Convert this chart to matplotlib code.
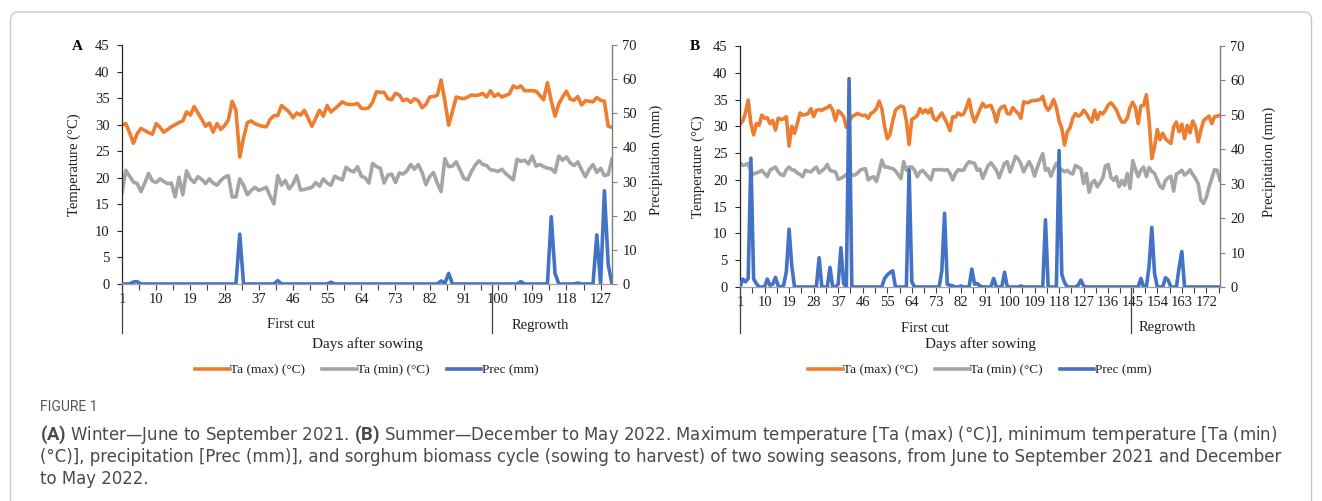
import numpy as np
import matplotlib.pyplot as plt
from matplotlib import font_manager
from matplotlib.lines import Line2D
from matplotlib.patches import FancyBboxPatch
from matplotlib.transforms import IdentityTransform, blended_transform_factory

plt.rcParams['font.family'] = ['Liberation Serif', 'DejaVu Serif']
plt.rcParams['mathtext.fontset'] = 'custom'
plt.rcParams['mathtext.rm'] = 'Roboto'
plt.rcParams['mathtext.bf'] = 'Roboto:bold'

# ---- Panel A: winter (June - September 2021), days after sowing 1..130 ----
a_tmax = [29.9, 30.2, 28.5, 26.5, 28.3, 29.3, 28.9, 28.5, 28.2, 30.2,
          29.5, 28.6, 29.1, 29.6, 30.0, 30.4, 30.7, 32.4, 31.8, 33.4,
          32.2, 31.0, 29.7, 30.3, 28.6, 30.2, 29.1, 29.8, 30.9, 34.4,
          32.7, 23.9, 27.5, 30.4, 30.7, 30.2, 29.9, 29.7, 29.6, 31.0,
          31.7, 31.7, 33.6, 33.0, 32.4, 31.3, 32.2, 31.8, 32.7, 31.2,
          29.7, 31.2, 32.7, 31.6, 33.6, 32.4, 33.0, 33.6, 34.3, 33.9,
          33.8, 33.8, 34.0, 33.1, 33.0, 33.2, 34.3, 36.2, 36.1, 36.1,
          34.9, 34.7, 35.9, 35.6, 34.5, 34.8, 34.2, 34.9, 34.5, 33.2,
          33.8, 35.2, 35.3, 35.5, 38.4, 34.5, 29.9, 32.5, 35.2, 35.0,
          34.9, 35.2, 35.6, 35.5, 35.6, 35.9, 35.2, 36.4, 35.3, 35.8,
          35.2, 35.5, 35.8, 37.3, 36.9, 37.3, 36.4, 36.4, 36.4, 36.3,
          35.5, 34.7, 37.9, 34.5, 31.6, 33.9, 35.2, 36.3, 34.8, 34.6,
          35.3, 33.7, 34.5, 34.4, 34.3, 35.1, 34.6, 34.4, 29.7, 29.5]
a_tmin = [17.1, 21.4, 20.3, 19.2, 18.9, 17.4, 19.0, 20.8, 19.4, 19.1,
          19.8, 19.3, 18.9, 19.0, 16.4, 20.1, 16.8, 21.3, 19.8, 19.1,
          20.2, 19.7, 18.9, 19.8, 19.0, 18.6, 19.5, 20.1, 20.4, 16.4,
          16.4, 19.8, 18.6, 16.8, 17.6, 18.2, 17.6, 17.9, 18.2, 16.5,
          15.1, 20.4, 18.6, 19.5, 17.9, 18.8, 20.4, 17.7, 17.8, 18.0,
          18.2, 19.1, 18.4, 19.8, 19.0, 18.6, 20.3, 19.9, 19.6, 22.0,
          21.4, 21.1, 22.1, 20.3, 20.0, 19.0, 22.7, 22.1, 21.8, 19.0,
          20.5, 20.7, 19.1, 20.9, 20.7, 21.3, 22.5, 21.6, 22.5, 21.0,
          18.7, 20.2, 21.0, 19.0, 17.4, 23.6, 22.1, 22.2, 23.0, 21.5,
          19.9, 19.6, 21.2, 22.4, 23.2, 22.5, 22.3, 21.5, 21.4, 21.2,
          21.6, 20.8, 20.2, 19.6, 23.5, 23.1, 23.3, 22.6, 24.1, 22.2,
          22.5, 22.1, 21.8, 21.7, 21.0, 24.1, 23.3, 23.9, 22.8, 22.3,
          23.0, 21.5, 20.2, 21.6, 22.5, 21.0, 21.8, 20.4, 20.6, 23.5]
a_prec = [0, 0, 0, 0.6, 0.7, 0, 0, 0, 0, 0,
          0, 0, 0, 0, 0, 0, 0, 0, 0, 0,
          0, 0, 0, 0, 0, 0, 0, 0, 0, 0,
          0, 14.6, 0, 0, 0, 0, 0, 0, 0, 0,
          0, 1.0, 0, 0, 0, 0, 0, 0, 0, 0,
          0, 0, 0, 0, 0, 0.5, 0, 0, 0, 0,
          0, 0, 0, 0, 0, 0, 0, 0, 0, 0,
          0, 0, 0, 0, 0, 0, 0, 0, 0, 0,
          0, 0, 0, 0, 0.9, 0.2, 3.1, 0, 0, 0,
          0, 0, 0, 0, 0, 0, 0, 0, 0, 0,
          0, 0, 0, 0, 0, 0.7, 0, 0, 0, 0,
          0, 0, 0, 19.7, 3.1, 0, 0, 0, 0, 0,
          0.3, 0, 0, 0, 0, 14.4, 0, 27.3, 5.7, 0]

# ---- Panel B: summer (December 2021 - May 2022), days after sowing 1..177 ----
b_tmax = [30.4, 31.0, 32.5, 34.9, 30.5, 28.4, 30.5, 30.2, 32.1, 31.5,
          31.6, 30.5, 31.1, 29.3, 31.5, 31.3, 31.4, 31.8, 26.3, 30.0,
          28.7, 30.5, 32.5, 32.1, 32.2, 32.4, 33.3, 31.8, 33.0, 33.1,
          33.0, 33.3, 33.5, 33.9, 33.0, 31.1, 32.9, 32.5, 31.8, 29.8,
          30.8, 31.8, 32.1, 32.4, 32.2, 32.0, 32.1, 31.5, 32.4, 32.7,
          33.3, 34.7, 33.3, 30.0, 27.7, 28.5, 31.0, 33.0, 33.5, 33.8,
          33.6, 31.0, 26.6, 31.3, 31.6, 32.0, 33.3, 32.5, 33.1, 32.5,
          33.3, 31.5, 31.1, 31.8, 32.5, 31.5, 30.5, 29.2, 31.8, 31.7,
          32.5, 32.1, 32.3, 33.5, 35.0, 32.4, 30.8, 32.0, 33.2, 34.3,
          33.6, 33.8, 33.9, 32.7, 30.8, 33.0, 33.6, 33.8, 32.4, 32.3,
          33.5, 32.9, 32.4, 31.5, 34.6, 34.4, 34.5, 34.8, 34.8, 34.9,
          35.0, 35.6, 33.8, 33.0, 33.8, 35.0, 33.5, 31.0, 29.6, 26.5,
          29.0, 29.7, 31.5, 32.4, 31.9, 32.2, 33.0, 32.4, 31.5, 30.8,
          33.0, 31.3, 32.6, 32.3, 33.0, 34.0, 34.4, 33.8, 33.1, 31.8,
          30.8, 30.8, 31.5, 33.5, 34.5, 33.5, 30.5, 33.8, 33.9, 35.9,
          31.1, 24.0, 26.2, 29.4, 27.5, 28.7, 27.7, 27.2, 26.8, 29.9,
          30.8, 29.0, 30.4, 27.7, 30.2, 28.8, 31.0, 29.9, 27.1, 29.3,
          31.1, 31.5, 31.9, 30.5, 31.8, 31.9, 32.1]
b_tmin = [23.2, 22.7, 22.8, 23.1, 21.5, 21.1, 21.3, 21.5, 21.8, 21.2,
          20.6, 21.8, 22.1, 22.4, 21.5, 21.0, 20.8, 21.9, 22.4, 21.9,
          21.8, 21.3, 21.0, 20.6, 21.8, 21.6, 21.5, 22.0, 22.4, 21.3,
          21.7, 22.1, 22.9, 21.8, 21.6, 21.5, 20.1, 20.3, 20.6, 21.0,
          21.2, 20.9, 20.9, 21.2, 21.8, 22.0, 22.1, 20.0, 20.4, 20.6,
          19.7, 21.5, 23.7, 22.4, 22.4, 22.2, 22.1, 21.7, 21.0, 20.2,
          23.4, 21.8, 22.4, 22.4, 21.8, 20.6, 21.5, 21.8, 21.2, 20.6,
          20.0, 21.9, 21.9, 21.9, 21.9, 21.8, 21.9, 21.2, 20.0, 21.2,
          21.9, 21.8, 21.8, 22.8, 23.4, 23.2, 23.1, 21.8, 22.0, 20.3,
          21.5, 22.7, 23.2, 22.5, 21.8, 20.4, 21.8, 23.1, 23.4, 21.5,
          22.8, 24.4, 23.9, 23.0, 21.5, 22.5, 23.4, 22.4, 20.7, 22.3,
          23.7, 24.9, 21.8, 22.1, 20.7, 22.0, 23.1, 22.2, 21.9, 21.5,
          21.8, 21.3, 21.1, 22.7, 22.4, 22.1, 19.3, 21.2, 17.7, 19.4,
          19.9, 18.7, 19.5, 20.3, 22.6, 22.9, 20.5, 19.9, 20.6, 18.7,
          19.9, 19.0, 21.2, 18.4, 23.6, 22.0, 20.6, 21.8, 22.4, 20.6,
          22.3, 21.6, 21.2, 20.0, 18.8, 18.4, 19.9, 20.4, 20.7, 17.9,
          21.1, 21.4, 21.8, 20.9, 21.3, 21.9, 21.0, 20.3, 19.3, 16.2,
          15.6, 16.8, 18.7, 20.3, 21.9, 21.8, 19.9]
b_prec = [0, 2.3, 1.5, 2.5, 37.4, 2.3, 1.0, 0, 0, 0,
          2.3, 0.5, 0.8, 2.8, 0.3, 0, 0.5, 4.5, 16.8, 6.0,
          0, 0, 0, 0, 0, 0, 0, 0, 0, 8.5,
          0, 0, 0, 5.7, 0, 0, 0.8, 11.4, 1.0, 0,
          60.5, 0, 0, 0, 0, 0, 0, 0, 0, 0,
          0, 0, 0, 2.5, 3.5, 4.2, 4.7, 0, 0, 0,
          0, 0, 34.0, 1.5, 0, 0, 0, 0, 0, 0,
          0, 0, 0, 0, 4.7, 21.4, 0.8, 0.5, 0.3, 0,
          0, 0.3, 0, 0, 0, 5.2, 0.8, 1.0, 0.3, 0,
          0, 0, 0, 2.5, 0, 0, 0, 4.3, 0, 0,
          0, 0, 0, 0.3, 0, 0, 0, 0, 0, 0,
          0, 0, 19.5, 0, 0, 0, 0, 39.6, 3.6, 1.3,
          0, 0, 0, 0, 0.5, 2.0, 0.3, 0, 0, 0,
          0, 0, 0, 0, 0, 0, 0, 0, 0, 0,
          0, 0, 0, 0, 0, 0, 0, 2.5, 0, 0,
          6.0, 17.3, 4.0, 0, 0, 0, 2.7, 2.0, 0, 0,
          0, 5.6, 10.3, 0, 0, 0, 0, 0, 0, 0,
          0, 0, 0, 0, 0, 0, 0]

series_labels = ["Ta (max) (°C)", "Ta (min) (°C)", "Prec (mm)"]
group_labels = ["First cut", "Regrowth"]

ORANGE = '#ED7D31'
GRAY = '#A5A5A5'
BLUE = '#4472C4'
TXT = '#1f1f1f'
LW = 2.6

W, H = 1322, 501
fig = plt.figure(figsize=(W / 100, H / 100), dpi=100)
fig.patch.set_facecolor('white')


def fx(px):
    return px / W


def fy(py):
    return 1 - py / H


def panel(box, tmax, tmin, prec, split, letter, letter_x, ylab_lx, ylab_rx,
          group_x, group_y):
    x0, y0, x1, y1 = box
    ax = fig.add_axes([fx(x0), fy(y1), (x1 - x0) / W, (y1 - y0) / H])
    days = np.arange(1, len(tmax) + 1)
    ax.plot(days, tmax, color=ORANGE, lw=LW, solid_joinstyle='round')
    ax.plot(days, tmin, color=GRAY, lw=LW, solid_joinstyle='round')

    ax2 = ax.twinx()
    ax2.plot(days, prec, color=BLUE, lw=LW, solid_joinstyle='round')

    for a in (ax, ax2):
        a.spines['top'].set_visible(False)
        a.spines['bottom'].set_color('#a0a0a0')
    ax.spines['right'].set_visible(False)
    ax2.spines['left'].set_visible(False)
    ax.spines['left'].set_color('#262626')
    ax.spines['left'].set_linewidth(0.9)
    ax2.spines['right'].set_color('#7f7f7f')
    ax2.spines['right'].set_linewidth(1.0)

    ax.set_yticks(np.arange(0, 46, 5))
    ax2.set_yticks(np.arange(0, 71, 10))
    ax.set_xticks(days[::9])
    ax.set_xticks(np.arange(5.5, len(days), 9), minor=True)
    ax.tick_params(axis='y', direction='out', length=3.5, width=0.8,
                   color='#262626', labelsize=10.5, labelcolor=TXT, pad=5.5)
    ax2.tick_params(axis='y', direction='out', length=3.5, width=0.8,
                    color='#7f7f7f', labelsize=10.5, labelcolor=TXT, pad=4)
    ax.tick_params(axis='x', which='both', direction='out', length=4,
                   width=0.8, color='#404040', labelsize=10.5,
                   labelcolor=TXT, pad=2.5)

    ax.set_ylabel("Temperature (°C)", fontsize=10.5, color=TXT)
    ax.yaxis.set_label_coords((ylab_lx - x0) / (x1 - x0), 0.5)
    ax2.set_ylabel("Precipitation (mm)", fontsize=10.5, color=TXT,
                   rotation=90)
    ax2.yaxis.set_label_coords((ylab_rx - x0) / (x1 - x0), 0.52)

    ax.set_ylim(0, 45)
    ax2.set_ylim(0, 70)

    # multi-level category axis: separators and group names
    tr = blended_transform_factory(ax.transData, fig.transFigure)
    for d in (1, split):
        ax.plot([d, d], [fy(y1), fy(333)], transform=tr, color='#404040',
                lw=0.9, clip_on=False)
    for name, gx in zip(group_labels, group_x):
        fig.text(fx(gx), fy(group_y), name, ha='center', va='center',
                 fontsize=10.5, color=TXT)
    cx = (x0 + x1) / 2
    fig.text(fx(cx), fy(344), "Days after sowing", ha='center', va='center',
             fontsize=11, color=TXT)
    fig.text(fx(letter_x), fy(46), letter, ha='center', va='center',
             fontsize=11, fontweight='bold', color='black')

    handles = [Line2D([], [], color=c, lw=LW) for c in (ORANGE, GRAY, BLUE)]
    fig.legend(handles, series_labels, loc='center',
               bbox_to_anchor=(fx(cx), fy(370)), ncol=3, frameon=False,
               fontsize=9.5, handlelength=2.6, handletextpad=0.05,
               columnspacing=1.3, labelcolor=TXT)
    ax.set_xlim(1, len(days))


panel((122, 45, 612, 284), a_tmax, a_tmin, a_prec, 98.5, 'A', 77, 81, 650,
      (291, 540), 325)
panel((740, 46, 1220, 287), b_tmax, b_tmin, b_prec, 144.5, 'B', 695, 705,
      1263, (925, 1167), 328)

# figure frame
fig.add_artist(FancyBboxPatch((10.5, -40), 1301, H - 12 + 40,
                              boxstyle='round,pad=0,rounding_size=8',
                              transform=IdentityTransform(), fill=False,
                              edgecolor='#c8c8c8', lw=1.0))

# caption: use a condensed sans face if one is installed, otherwise Roboto
narrow = [f for f in font_manager.fontManager.ttflist
          if f.style == 'normal' and f.weight in (300, 400, 'normal', 'light')
          and (f.stretch in ('condensed', 'semi-condensed')
               or 'Condensed' in f.name or 'Narrow' in f.name)]
if narrow:
    cap_kw = dict(fontproperties=font_manager.FontProperties(fname=narrow[0].fname))
else:
    cap_kw = dict(family='Roboto', fontweight='light')

fig.text(fx(40), fy(407), "FIGURE 1", fontsize=10, family='Roboto',
         color='#555555', va='center')
cap = [r"$\mathbf{(A)}$ Winter—June to September 2021. $\mathbf{(B)}$ Summer—December to May 2022. "
       "Maximum temperature [Ta (max) (°C)], minimum temperature [Ta (min)",
       "(°C)], precipitation [Prec (mm)], and sorghum biomass cycle (sowing to harvest) "
       "of two sowing seasons, from June to September 2021 and December",
       "to May 2022."]
renderer = fig.canvas.get_renderer()
texts = []
for i, line in enumerate(cap):
    t = fig.text(fx(40), fy(435 + 22 * i), line, color='#4a4a4a',
                 va='center', **cap_kw)
    t.set_fontsize(12)
    texts.append(t)
widest = max(t.get_window_extent(renderer).width for t in texts[:2])
size = min(12 * 1243 / widest, 14)
for t in texts:
    t.set_fontsize(size)

fig.savefig('out.png', dpi=100)
